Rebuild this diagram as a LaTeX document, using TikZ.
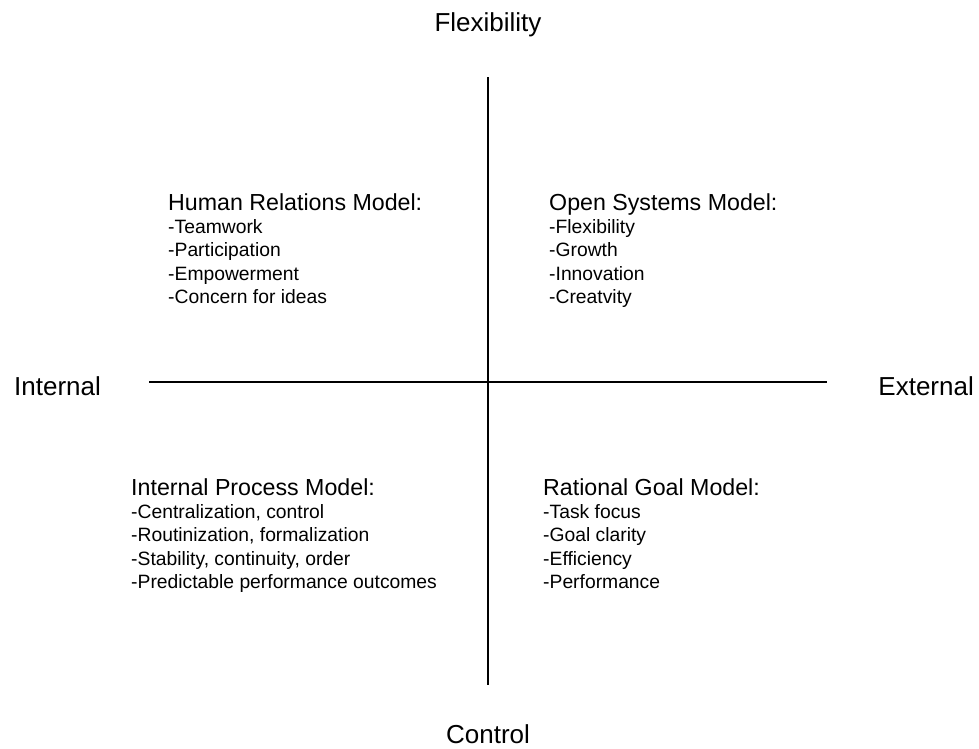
\documentclass[tikz,border=0pt]{standalone}
\usepackage{fontspec}
\setmainfont{Liberation Sans}
\usepackage{tikz}
\tikzset{
  axislabel/.style={inner sep=0pt, font=\fontsize{26}{31}\selectfont},
  modelhead/.style={inner sep=0pt, anchor=base west, font=\fontsize{23.2}{28}\selectfont},
  modelitem/.style={inner sep=0pt, anchor=base west, font=\fontsize{19.3}{23}\selectfont},
  axisline/.style={line width=2pt}
}
\begin{document}
\begin{tikzpicture}[x=1pt, y=-1pt]
			%%%%% START %%%%%
			\useasboundingbox (0, 0) rectangle (979, 748);
			
			\coordinate (top) at (487.5, 77);
			\coordinate (bottom) at (487.5, 685);
			\coordinate (left) at (149, 381.5);
			\coordinate (right) at (827, 381.5);
			\draw[axisline] (top) -- (bottom);
			\draw[axisline] (left) -- (right);
			
			\node[axislabel, anchor=base] (flex) at (488, 31) {Flexibility};
			\node[axislabel, anchor=base] (ctrl) at (488, 743) {Control};
			\node[axislabel, anchor=base west] (int) at (14, 395) {Internal};
			\node[axislabel, anchor=base east] (ext) at (974, 395) {External};
			
			% human relations
			\node[modelhead] (hrm) at (168, 210) {Human Relations Model:};
			\node[modelitem] (hrm1) at (168, 233) {-Teamwork};
			\node[modelitem] (hrm2) at (168, 256.5) {-Participation};
			\node[modelitem] (hrm3) at (168, 280) {-Empowerment};
			\node[modelitem] (hrm4) at (168, 303.5) {-Concern for ideas};
			
			% open systems
			\node[modelhead] (osm) at (549, 210) {Open Systems Model:};
			\node[modelitem] (osm1) at (549, 233) {-Flexibility};
			\node[modelitem] (osm2) at (549, 256.5) {-Growth};
			\node[modelitem] (osm3) at (549, 280) {-Innovation};
			\node[modelitem] (osm4) at (549, 303.5) {-Creatvity};
			
			% internal process
			\node[modelhead] (ipm) at (131, 495) {Internal Process Model:};
			\node[modelitem] (ipm1) at (131, 518) {-Centralization, control};
			\node[modelitem] (ipm2) at (131, 541.5) {-Routinization, formalization};
			\node[modelitem] (ipm3) at (131, 565) {-Stability, continuity, order};
			\node[modelitem] (ipm4) at (131, 588.5) {-Predictable performance outcomes};
			
			% rational goal
			\node[modelhead] (rgm) at (543, 495) {Rational Goal Model:};
			\node[modelitem] (rgm1) at (543, 518) {-Task focus};
			\node[modelitem] (rgm2) at (543, 541.5) {-Goal clarity};
			\node[modelitem] (rgm3) at (543, 565) {-Efficiency};
			\node[modelitem] (rgm4) at (543, 588.5) {-Performance};
			%%%%% END %%%%%
\end{tikzpicture}
\end{document}
